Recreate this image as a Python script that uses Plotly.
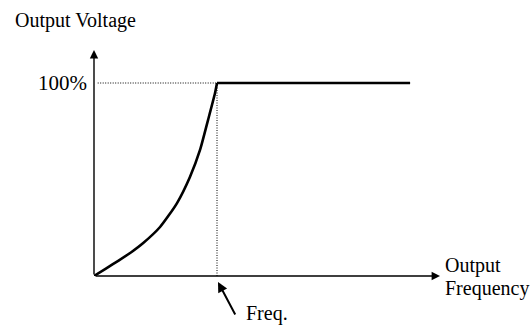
import plotly.graph_objects as go

# V/f characteristic: normalized output frequency vs. output voltage
freq_curve = [0.0, 0.100, 0.200, 0.300, 0.400, 0.537, 0.675, 0.780, 0.862, 0.927, 0.984, 1.0]
volt_curve = [0.0, 0.040, 0.080, 0.122, 0.171, 0.254, 0.378, 0.513, 0.653, 0.808, 0.948, 1.0]
freq_flat = [1.0, 2.57]
volt_flat = [1.0, 1.0]

x_label_top = "Output"
x_label_bottom = "Frequency"
y_label = "Output Voltage"
level_label = "100%"
base_label = "Freq."

X_END = 2.813
Y_END = 1.171
FONT = "Liberation Serif"

# plot area in pixels (for placing labels outside it in paper units)
L, R, T, B, W, H = 94, 91, 50, 50, 531, 326
PW, PH = W - L - R, H - T - B


def px(xp):
    return (xp - L) / PW


def py(yp):
    return (H - B - yp) / PH


fig = go.Figure()

# reference guides to the base point
base_f, base_v = freq_curve[-1], volt_curve[-1]
guide = dict(color="black", width=1, dash="1px,1.5px")
fig.add_trace(go.Scatter(x=[0.03, base_f], y=[base_v, base_v], mode="lines",
                         line=guide, hoverinfo="skip"))
fig.add_trace(go.Scatter(x=[base_f, base_f], y=[0, base_v], mode="lines",
                         line=guide, hoverinfo="skip"))

# characteristic curve
fig.add_trace(go.Scatter(x=freq_curve, y=volt_curve, mode="lines", line_shape="spline",
                         line=dict(color="black", width=2.6, smoothing=0.6), hoverinfo="skip"))
fig.add_trace(go.Scatter(x=freq_flat, y=volt_flat, mode="lines",
                         line=dict(color="black", width=2.6), hoverinfo="skip"))

txt = dict(family=FONT, size=20, color="black")
annotations = [
    # x axis with arrow
    dict(x=X_END, y=0, ax=0, ay=0, xref="x", yref="y", axref="x", ayref="y",
         text="", showarrow=True, arrowhead=2, arrowsize=1.2, arrowwidth=1.4,
         arrowcolor="black", standoff=0),
    # y axis with arrow
    dict(x=0, y=Y_END, ax=0, ay=0, xref="x", yref="y", axref="x", ayref="y",
         text="", showarrow=True, arrowhead=2, arrowsize=1.2, arrowwidth=1.4,
         arrowcolor="black", standoff=0),
    # pointer to the base frequency
    dict(x=px(218), y=py(282), xref="paper", yref="paper", ax=18, ay=34,
         text="", showarrow=True, arrowhead=2, arrowsize=1.0, arrowwidth=2,
         arrowcolor="black", standoff=0),
    dict(x=px(244), y=py(313), xref="paper", yref="paper", xanchor="left", yanchor="middle",
         text=base_label, showarrow=False, font=txt),
    dict(x=px(89), y=py(83), xref="paper", yref="paper", xanchor="right", yanchor="middle",
         text=level_label, showarrow=False, font=dict(family=FONT, size=21, color="black")),
    dict(x=px(443), y=py(265), xref="paper", yref="paper", xanchor="left", yanchor="middle",
         text=x_label_top, showarrow=False, font=txt),
    dict(x=px(443), y=py(288), xref="paper", yref="paper", xanchor="left", yanchor="middle",
         text=x_label_bottom, showarrow=False, font=txt),
    dict(x=px(13), y=py(20), xref="paper", yref="paper", xanchor="left", yanchor="middle",
         text=y_label, showarrow=False, font=txt),
]

fig.update_layout(
    width=W, height=H,
    margin=dict(l=L, r=R, t=T, b=B),
    paper_bgcolor="white", plot_bgcolor="white",
    showlegend=False,
    xaxis=dict(range=[0, X_END], visible=False, fixedrange=True),
    yaxis=dict(range=[0, Y_END], visible=False, fixedrange=True),
    annotations=annotations,
)

fig.write_html("out.html", config={"displayModeBar": False})
